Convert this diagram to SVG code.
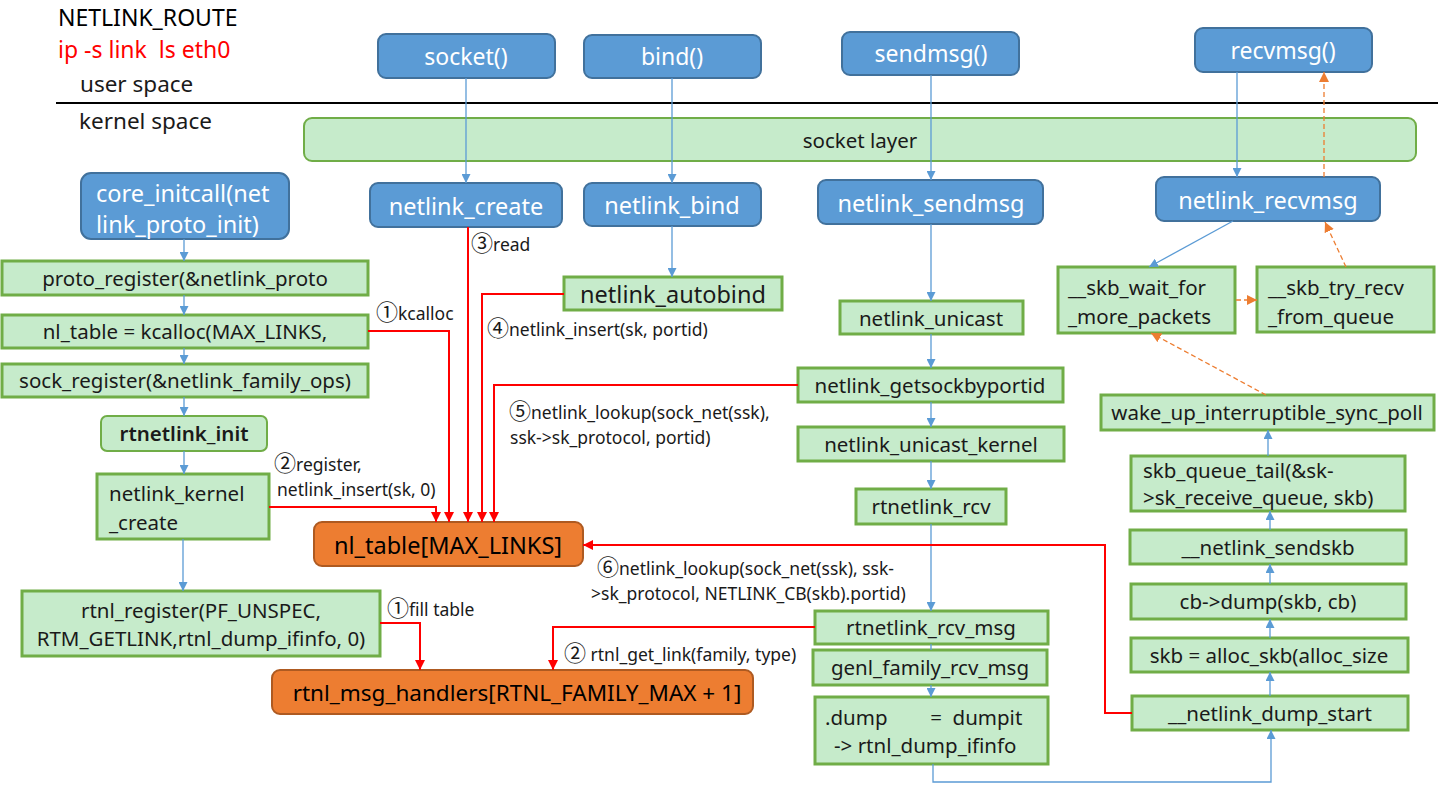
<svg xmlns="http://www.w3.org/2000/svg" width="1438" height="786" viewBox="0 0 1438 786">
<defs>
<style>
text{font-family:"Noto Sans","Noto Sans CJK SC",sans-serif;fill:#1a1a1a}
.blue{fill:#5B9BD5;stroke:#41719C;stroke-width:2}
.green{fill:#C6EBCB;stroke:#70AD47;stroke-width:3}
.orange{fill:#ED7D31;stroke:#AE5A21;stroke-width:2}
.bt{fill:#fff;font-size:23.5px;text-anchor:middle;dominant-baseline:central}
.gt{font-size:20.5px;text-anchor:middle;dominant-baseline:central}
.ot{fill:#000;font-size:23px;text-anchor:middle;dominant-baseline:central}
.lb{font-size:17.5px}
.cd{font-family:"Noto Sans CJK SC",sans-serif;font-size:22px}
.bl{fill:none;stroke:#5B9BD5;stroke-width:1.3}
.rd{fill:none;stroke:#FF0000;stroke-width:2}
.or{fill:none;stroke:#ED7D31;stroke-width:1.3;stroke-dasharray:5 3}
</style>
<marker id="ab" viewBox="0 0 10 10" refX="10" refY="5" markerWidth="9" markerHeight="9" markerUnits="userSpaceOnUse" orient="auto"><path d="M0,0 L10,5 L0,10 z" fill="#5B9BD5"/></marker>
<marker id="ar" viewBox="0 0 10 10" refX="10" refY="5" markerWidth="10" markerHeight="10" markerUnits="userSpaceOnUse" orient="auto"><path d="M0,0 L10,5 L0,10 z" fill="#FF0000"/></marker>
<marker id="ao" viewBox="0 0 10 10" refX="10" refY="5" markerWidth="10" markerHeight="10" markerUnits="userSpaceOnUse" orient="auto"><path d="M0,0 L10,5 L0,10 z" fill="#ED7D31"/></marker>
</defs>
<rect width="1438" height="786" fill="#fff"/>

<g id="header">
<text x="58" y="26" style="font-size:23px;fill:#000">NETLINK_ROUTE</text>
<text x="58" y="58" style="font-size:23px;fill:#FF0000" xml:space="preserve">ip -s link  ls eth0</text>
<text x="80" y="92" style="font-size:22.5px">user space</text>
<line x1="56" y1="103" x2="1438" y2="103" stroke="#000" stroke-width="2"/>
<text x="79" y="129" style="font-size:22.5px">kernel space</text>
</g>

<g id="socket_layer"><rect class="green" x="304" y="118" width="1112" height="43" rx="8" style="stroke-width:2"/><text class="gt" x="860" y="140">socket layer</text></g>

<g id="socket"><rect class="blue" x="378" y="34" width="177" height="44" rx="8"/><text class="bt" x="466" y="56" style="font-size:23px">socket()</text></g>
<g id="bind"><rect class="blue" x="584" y="35" width="177" height="43" rx="8"/><text class="bt" x="672" y="56" style="font-size:23px">bind()</text></g>
<g id="sendmsg"><rect class="blue" x="842" y="32" width="177" height="43" rx="8"/><text class="bt" x="931" y="53" style="font-size:23px">sendmsg()</text></g>
<g id="recvmsg"><rect class="blue" x="1195" y="28" width="177" height="44" rx="8"/><text class="bt" x="1283" y="50" style="font-size:23px">recvmsg()</text></g>

<g id="netlink_create"><rect class="blue" x="370" y="183" width="192" height="44" rx="8"/><text class="bt" x="466" y="206">netlink_create</text></g>
<g id="netlink_bind"><rect class="blue" x="584" y="183" width="177" height="43" rx="8"/><text class="bt" x="672" y="205">netlink_bind</text></g>
<g id="netlink_sendmsg"><rect class="blue" x="818" y="180" width="225" height="44" rx="8"/><text class="bt" x="931" y="203">netlink_sendmsg</text></g>
<g id="netlink_recvmsg"><rect class="blue" x="1156" y="177" width="224" height="44" rx="8"/><text class="bt" x="1268" y="200">netlink_recvmsg</text></g>
<g id="core_initcall"><rect class="blue" x="81" y="173" width="208" height="66" rx="10"/><text class="bt" x="96" y="193" style="text-anchor:start">core_initcall(net</text><text class="bt" x="96" y="224" style="text-anchor:start">link_proto_init)</text></g>

<g id="proto_register"><rect class="green" x="2" y="261" width="366" height="34"/><text class="gt" x="185" y="278">proto_register(&amp;netlink_proto</text></g>
<g id="nl_table_kcalloc"><rect class="green" x="2" y="315" width="366" height="33"/><text class="gt" x="185" y="331">nl_table = kcalloc(MAX_LINKS,</text></g>
<g id="sock_register"><rect class="green" x="2" y="364" width="366" height="33"/><text class="gt" x="185" y="380">sock_register(&amp;netlink_family_ops)</text></g>
<g id="rtnetlink_init"><rect class="green" x="101" y="416" width="166" height="35" rx="6" style="stroke-width:2"/><text class="gt" x="184" y="433" style="font-weight:600">rtnetlink_init</text></g>
<g id="netlink_kernel_create"><rect class="green" x="97" y="474" width="172" height="65"/><text class="gt" x="109" y="493" style="text-anchor:start">netlink_kernel</text><text class="gt" x="109" y="522" style="text-anchor:start">_create</text></g>
<g id="rtnl_register"><rect class="green" x="22" y="591" width="358" height="65"/><text class="gt" x="201" y="610">rtnl_register(PF_UNSPEC,</text><text class="gt" x="201" y="638">RTM_GETLINK,rtnl_dump_ifinfo, 0)</text></g>

<g id="netlink_autobind"><rect class="green" x="564" y="277" width="218" height="33"/><text class="gt" x="673" y="294" style="font-size:23.5px">netlink_autobind</text></g>
<g id="netlink_unicast"><rect class="green" x="840" y="301" width="183" height="33"/><text class="gt" x="931" y="318">netlink_unicast</text></g>
<g id="netlink_getsockbyportid"><rect class="green" x="798" y="368" width="265" height="34"/><text class="gt" x="930" y="385">netlink_getsockbyportid</text></g>
<g id="netlink_unicast_kernel"><rect class="green" x="798" y="427" width="266" height="34"/><text class="gt" x="931" y="444">netlink_unicast_kernel</text></g>
<g id="rtnetlink_rcv"><rect class="green" x="856" y="489" width="150" height="35"/><text class="gt" x="931" y="506">rtnetlink_rcv</text></g>
<g id="rtnetlink_rcv_msg"><rect class="green" x="815" y="611" width="233" height="33"/><text class="gt" x="931" y="627">rtnetlink_rcv_msg</text></g>
<g id="genl_family_rcv_msg"><rect class="green" x="813" y="650" width="234" height="35"/><text class="gt" x="930" y="667">genl_family_rcv_msg</text></g>
<g id="dump"><rect class="green" x="815" y="697" width="233" height="67"/><text class="gt" x="825" y="717" style="text-anchor:start" xml:space="preserve">.dump        =  dumpit</text><text class="gt" x="834" y="745" style="text-anchor:start">-&gt; rtnl_dump_ifinfo</text></g>

<g id="netlink_dump_start"><rect class="green" x="1132" y="696" width="276" height="34"/><text class="gt" x="1270" y="713">__netlink_dump_start</text></g>
<g id="alloc_skb"><rect class="green" x="1131" y="638" width="277" height="34"/><text class="gt" x="1269" y="655">skb = alloc_skb(alloc_size</text></g>
<g id="cb_dump"><rect class="green" x="1131" y="584" width="275" height="35"/><text class="gt" x="1268" y="601">cb-&gt;dump(skb, cb)</text></g>
<g id="netlink_sendskb"><rect class="green" x="1130" y="530" width="276" height="34"/><text class="gt" x="1268" y="547">__netlink_sendskb</text></g>
<g id="skb_queue_tail"><rect class="green" x="1131" y="456" width="274" height="55"/><text class="gt" x="1143" y="470" style="text-anchor:start">skb_queue_tail(&amp;sk-</text><text class="gt" x="1143" y="497" style="text-anchor:start">&gt;sk_receive_queue, skb)</text></g>
<g id="wake_up"><rect class="green" x="1101" y="395" width="333" height="35"/><text class="gt" x="1267" y="412">wake_up_interruptible_sync_poll</text></g>
<g id="skb_wait"><rect class="green" x="1058" y="267" width="177" height="66"/><text class="gt" x="1068" y="287" style="text-anchor:start">__skb_wait_for</text><text class="gt" x="1068" y="316" style="text-anchor:start">_more_packets</text></g>
<g id="skb_try_recv"><rect class="green" x="1257" y="267" width="177" height="65"/><text class="gt" x="1268" y="287" style="text-anchor:start">__skb_try_recv</text><text class="gt" x="1268" y="316" style="text-anchor:start">_from_queue</text></g>

<g id="nl_table"><rect class="orange" x="314" y="522" width="269" height="44" rx="8"/><text class="ot" x="448" y="545" style="font-size:23.5px">nl_table[MAX_LINKS]</text></g>
<g id="rtnl_msg_handlers"><rect class="orange" x="272" y="670" width="481" height="44" rx="8"/><text class="ot" x="517" y="692" style="font-size:22.5px">rtnl_msg_handlers[RTNL_FAMILY_MAX + 1]</text></g>

<g id="connectors">
<path class="bl" d="M466,78 V183" marker-end="url(#ab)"/>
<path class="bl" d="M672,78 V183" marker-end="url(#ab)"/>
<path class="bl" d="M931,75 V180" marker-end="url(#ab)"/>
<path class="bl" d="M1237,72 V177" marker-end="url(#ab)"/>
<path class="bl" d="M184,239 V261" marker-end="url(#ab)"/>
<path class="bl" d="M184,295 V315" marker-end="url(#ab)"/>
<path class="bl" d="M184,348 V364" marker-end="url(#ab)"/>
<path class="bl" d="M184,397 V416" marker-end="url(#ab)"/>
<path class="bl" d="M184,451 V474" marker-end="url(#ab)"/>
<path class="bl" d="M183,539 V591" marker-end="url(#ab)"/>
<path class="bl" d="M672,226 V277" marker-end="url(#ab)"/>
<path class="bl" d="M931,224 V301" marker-end="url(#ab)"/>
<path class="bl" d="M931,334 V368" marker-end="url(#ab)"/>
<path class="bl" d="M931,402 V427" marker-end="url(#ab)"/>
<path class="bl" d="M931,461 V489" marker-end="url(#ab)"/>
<path class="bl" d="M931,524 V611" marker-end="url(#ab)"/>
<path class="bl" d="M931,644 V650"/>
<path class="bl" d="M931,685 V697" marker-end="url(#ab)"/>
<path class="bl" d="M933,764 V782 H1271 V730" marker-end="url(#ab)"/>
<path class="bl" d="M1270,696 V672" marker-end="url(#ab)"/>
<path class="bl" d="M1270,638 V619" marker-end="url(#ab)"/>
<path class="bl" d="M1270,584 V564" marker-end="url(#ab)"/>
<path class="bl" d="M1270,530 V511" marker-end="url(#ab)"/>
<path class="bl" d="M1268,456 V430" marker-end="url(#ab)"/>
<path class="bl" d="M1233,221 L1149,267" marker-end="url(#ab)"/>

<path class="or" d="M1324,177 V72" marker-end="url(#ao)"/>
<path class="or" d="M1346,267 L1325,222" marker-end="url(#ao)"/>
<path class="or" d="M1236,300 H1257" marker-end="url(#ao)"/>
<path class="or" d="M1266,395 L1151,333" marker-end="url(#ao)"/>

<path class="rd" d="M368,331 H449 V522" marker-end="url(#ar)"/>
<path class="rd" d="M269,507 H436 V522" marker-end="url(#ar)"/>
<path class="rd" d="M468,227 V522" marker-end="url(#ar)"/>
<path class="rd" d="M564,294 H482 V522" marker-end="url(#ar)"/>
<path class="rd" d="M798,385 H494 V522" marker-end="url(#ar)"/>
<path class="rd" d="M1132,713 H1105 V545 H583" marker-end="url(#ar)"/>
<path class="rd" d="M380,623 H420 V670" marker-end="url(#ar)"/>
<path class="rd" d="M815,627 H553 V670" marker-end="url(#ar)"/>
</g>

<g id="labels">
<text class="lb" x="376" y="320"><tspan class="cd">①</tspan>kcalloc</text>
<text class="lb" x="471" y="251"><tspan class="cd">③</tspan>read</text>
<text class="lb" x="487" y="336"><tspan class="cd">④</tspan>netlink_insert(sk, portid)</text>
<text class="lb" x="509" y="419"><tspan class="cd">⑤</tspan>netlink_lookup(sock_net(ssk),</text>
<text class="lb" x="510" y="444">ssk-&gt;sk_protocol, portid)</text>
<text class="lb" x="274" y="471"><tspan class="cd">②</tspan>register,</text>
<text class="lb" x="277" y="496">netlink_insert(sk, 0)</text>
<text class="lb" x="597" y="575"><tspan class="cd">⑥</tspan>netlink_lookup(sock_net(ssk), ssk-</text>
<text class="lb" x="591" y="600">&gt;sk_protocol, NETLINK_CB(skb).portid)</text>
<text class="lb" x="387" y="616"><tspan class="cd">①</tspan>fill table</text>
<text class="lb" x="564" y="661" xml:space="preserve"><tspan class="cd">②</tspan> rtnl_get_link(family, type)</text>
</g>
</svg>
